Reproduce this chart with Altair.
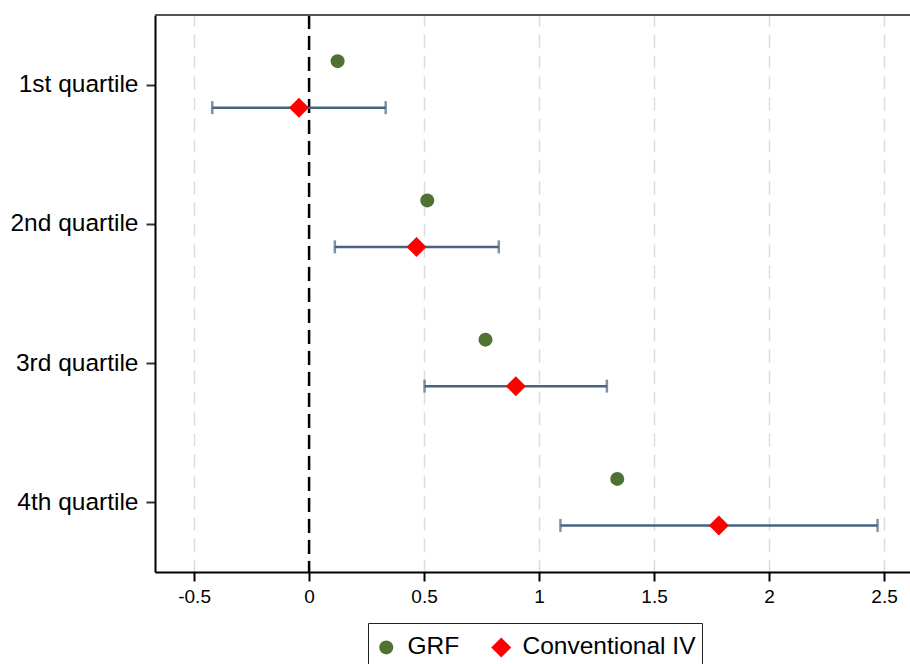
import altair as alt
import pandas as pd

# Heterogeneous effects by quartile: GRF estimates vs conventional IV with 95% CI
quartiles = ["1st quartile", "2nd quartile", "3rd quartile", "4th quartile"]
grf_est = [0.124, 0.514, 0.767, 1.340]
iv_est = [-0.044, 0.467, 0.899, 1.782]
iv_lo = [-0.421, 0.112, 0.502, 1.093]
iv_hi = [0.333, 0.825, 1.295, 2.472]
series_names = ["GRF", "Conventional IV"]
x_ticks = [-0.5, 0, 0.5, 1, 1.5, 2, 2.5]

FONT = "Liberation Sans"
GREEN = "#4f7232"
RED = "#ff0000"
BAR = "#466482"

points = pd.DataFrame({
    "quartile": quartiles * 2,
    "series": [series_names[0]] * len(grf_est) + [series_names[1]] * len(iv_est),
    "estimate": grf_est + iv_est,
})
ci = pd.DataFrame({"quartile": quartiles, "lo": iv_lo, "hi": iv_hi})

x_scale = alt.Scale(domain=[-0.67, 2.613], nice=False, zero=False)
x_axis = alt.Axis(
    values=x_ticks, title=None, grid=True, gridColor="#dcdcdc", gridWidth=1.5,
    gridDash=[13, 8], domainColor="black", domainWidth=2, tickColor="black",
    tickWidth=2, tickSize=9, labelFontSize=19, labelPadding=6, labelFont=FONT,
    labelColor="black",
    labelExpr="datum.value < 0 ? '-' + format(-datum.value, '~g') : format(datum.value, '~g')",
)
y_enc = alt.Y(
    "quartile:N", sort=quartiles,
    scale=alt.Scale(type="point", padding=0.5),
    axis=alt.Axis(
        title=None, grid=False, domainColor="black", domainWidth=2,
        tickColor="#333333", tickWidth=2, tickSize=9, labelPadding=8,
        labelFontSize=24.5, labelFont=FONT, labelColor="black",
    ),
)

GRF_SIZE = 196
IV_SIZE = 400

color_enc = alt.Color(
    "series:N",
    scale=alt.Scale(domain=series_names, range=[GREEN, RED]),
    legend=alt.Legend(
        title=" ", titleFontSize=2, titlePadding=4,
        orient="none", legendX=213, legendY=608, direction="horizontal",
        strokeColor="#222222", fillColor="white", padding=6, labelFontSize=24.5,
        labelFont=FONT, labelColor="black", labelOffset=9, columnPadding=29,
        labelLimit=400, symbolStrokeWidth=0,
    ),
)
shape_enc = alt.Shape("series:N", scale=alt.Scale(domain=series_names, range=["circle", "diamond"]))
size_enc = alt.Size(
    "series:N",
    scale=alt.Scale(type="point", padding=0, domain=series_names, range=[GRF_SIZE, IV_SIZE]),
)

# frame line along the top of the plot area
top_border = alt.Chart(ci).mark_rule(color="#555555", strokeWidth=2).encode(
    x=alt.value(0), x2=alt.value(755), y=alt.value(0)
).transform_filter("datum.quartile == '1st quartile'")

zero_line = alt.Chart(ci).mark_rule(
    color="black", strokeWidth=2.5, strokeDash=[14, 7]
).encode(x=alt.X(datum=0, scale=x_scale, axis=x_axis)).transform_filter(
    "datum.quartile == '1st quartile'"
)

ci_bars = alt.Chart(ci).mark_rule(color=BAR, strokeWidth=2.5, yOffset=23).encode(
    x=alt.X("lo:Q", scale=x_scale, axis=x_axis), x2="hi:Q", y=y_enc
)
cap_lo = alt.Chart(ci).mark_tick(color=BAR, thickness=2.5, size=13, yOffset=23).encode(
    x=alt.X("lo:Q", scale=x_scale, axis=x_axis), y=y_enc
)
cap_hi = alt.Chart(ci).mark_tick(color=BAR, thickness=2.5, size=13, yOffset=23).encode(
    x=alt.X("hi:Q", scale=x_scale, axis=x_axis), y=y_enc
)

grf_pts = alt.Chart(points).mark_point(
    filled=True, opacity=1, strokeWidth=0, yOffset=-23.5
).encode(
    x=alt.X("estimate:Q", scale=x_scale, axis=x_axis), y=y_enc,
    color=color_enc, shape=shape_enc, size=size_enc,
).transform_filter(alt.datum.series == series_names[0])

iv_pts = alt.Chart(points).mark_point(
    filled=True, opacity=1, strokeWidth=0, yOffset=23
).encode(
    x=alt.X("estimate:Q", scale=x_scale, axis=x_axis), y=y_enc,
    color=color_enc, shape=shape_enc, size=size_enc,
).transform_filter(alt.datum.series == series_names[1])

chart = alt.layer(
    zero_line, ci_bars, cap_lo, cap_hi, grf_pts, iv_pts, top_border
).properties(
    width=755, height=557,
    padding={"left": 155, "top": 15, "right": 0, "bottom": 92},
    autosize=alt.AutoSizeParams(type="none"),
).configure_view(stroke=None).configure(background="white")

chart.save("out.html", embed_options={"renderer": "svg", "actions": False})
